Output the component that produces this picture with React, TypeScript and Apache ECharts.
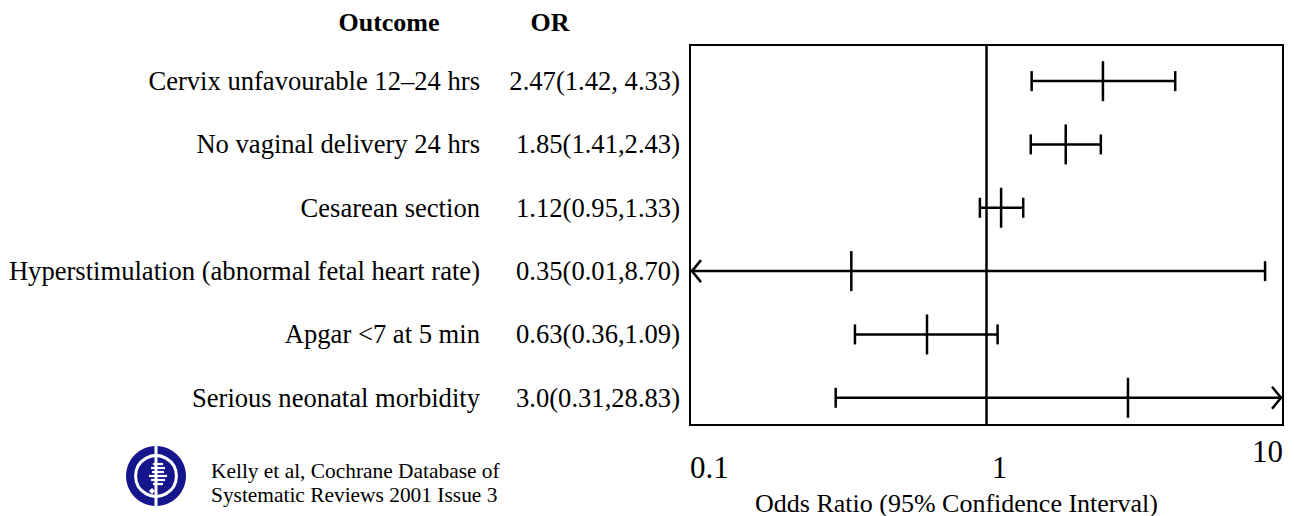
import React, { useEffect, useRef } from "react";
import * as echarts from "echarts";

// Outcomes (top to bottom) with odds ratios and 95% confidence limits
const outcomes = [
  "Cervix unfavourable 12–24 hrs",
  "No vaginal delivery 24 hrs",
  "Cesarean section",
  "Hyperstimulation (abnormal fetal heart rate)",
  "Apgar <7 at 5 min",
  "Serious neonatal morbidity",
];
const oddsRatio = [2.47, 1.85, 1.12, 0.35, 0.63, 3.0];
const ciLow = [1.42, 1.41, 0.95, 0.01, 0.36, 0.31];
const ciHigh = [4.33, 2.43, 1.33, 8.7, 1.09, 28.83];
const orLabels = [
  "2.47(1.42, 4.33)",
  "1.85(1.41,2.43)",
  "1.12(0.95,1.33)",
  "0.35(0.01,8.70)",
  "0.63(0.36,1.09)",
  "3.0(0.31,28.83)",
];
const xMin = 0.1;
const xMax = 10;
const referenceOR = 1;

const SERIF = "'Liberation Serif', 'Times New Roman', serif";
const NAVY = "#16168c";

export default function App() {
  const ref = useRef<HTMLDivElement>(null);

  useEffect(() => {
    if (!ref.current) return;
    const chart = echarts.init(ref.current, null, { renderer: "svg" });

    const rows = outcomes.map((_, i) => i);
    const data = rows.map((i) => [ciLow[i], ciHigh[i], oddsRatio[i], i]);

    const renderItem = (params: any, api: any) => {
      const lo = api.value(0);
      const hi = api.value(1);
      const or = api.value(2);
      const row = api.value(3);
      const pLo = api.coord([Math.max(lo, xMin), row]);
      const pHi = api.coord([Math.min(hi, xMax), row]);
      const pOr = api.coord([or, row]);
      const style = { stroke: "#000", lineWidth: 2.5, fill: "none" };
      const cap = 10;
      const tick = 20;
      const head = 11;
      const children: any[] = [
        { type: "line", shape: { x1: pLo[0], y1: pLo[1], x2: pHi[0], y2: pHi[1] }, style },
        { type: "line", shape: { x1: pOr[0], y1: pOr[1] - tick, x2: pOr[0], y2: pOr[1] + tick }, style },
      ];
      if (lo >= xMin) {
        children.push({ type: "line", shape: { x1: pLo[0], y1: pLo[1] - cap, x2: pLo[0], y2: pLo[1] + cap }, style });
      } else {
        children.push({
          type: "polyline",
          shape: { points: [[pLo[0] + head, pLo[1] - head], [pLo[0] + 2, pLo[1]], [pLo[0] + head, pLo[1] + head]] },
          style,
        });
      }
      if (hi <= xMax) {
        children.push({ type: "line", shape: { x1: pHi[0], y1: pHi[1] - cap, x2: pHi[0], y2: pHi[1] + cap }, style });
      } else {
        children.push({
          type: "polyline",
          shape: { points: [[pHi[0] - head, pHi[1] - head], [pHi[0] - 2, pHi[1]], [pHi[0] - head, pHi[1] + head]] },
          style,
        });
      }
      return { type: "group", children };
    };

    const tickLabel = (v: number) => {
      if (v < 0.5) return "{a|0.1}";
      if (v < 5) return "{b|1}";
      return "{c|10}";
    };

    const logo = (cx: number, cy: number, r: number) => {
      const white = { stroke: "#fff", lineWidth: 2.2, fill: "none" };
      const bars = [
        [-12, 5],
        [-8, 7],
        [-4, 6],
        [0, 9],
        [4, 7],
        [8, 5],
      ];
      return {
        type: "group",
        children: [
          { type: "circle", shape: { cx, cy, r }, style: { fill: NAVY } },
          { type: "circle", shape: { cx, cy, r: r * 0.68 }, style: { stroke: "#fff", lineWidth: 3, fill: NAVY } },
          { type: "line", shape: { x1: cx, y1: cy - r, x2: cx, y2: cy + r }, style: { stroke: "#fff", lineWidth: 3 } },
          ...bars.map(([dy, w]) => ({
            type: "line",
            shape: { x1: cx - w + 2, y1: cy + dy, x2: cx + w + 2, y2: cy + dy },
            style: white,
          })),
          {
            type: "polygon",
            shape: { points: [[cx - 4, cy + 12], [cx - 1, cy + 15], [cx - 4, cy + 18], [cx - 7, cy + 15]] },
            style: { fill: "#fff" },
          },
        ],
      };
    };

    chart.setOption({
      animation: false,
      backgroundColor: "#fff",
      textStyle: { fontFamily: SERIF, color: "#000" },
      grid: {
        left: 690,
        right: 11,
        top: 45,
        bottom: 91,
        show: true,
        borderColor: "#000",
        borderWidth: 2,
        backgroundColor: "transparent",
        outerBoundsMode: "none",
      },
      xAxis: {
        type: "log",
        logBase: 10,
        min: xMin,
        max: xMax,
        axisLine: { show: false },
        axisTick: { show: false },
        splitLine: { show: false },
        name: "Odds Ratio (95% Confidence Interval)",
        nameLocation: "middle",
        nameGap: 65,
        nameTextStyle: { fontFamily: SERIF, fontSize: 26, color: "#000", padding: [0, 60, 0, 0] },
        axisLabel: {
          margin: 11,
          fontFamily: SERIF,
          fontSize: 31,
          color: "#000",
          alignMinLabel: "left",
          alignMaxLabel: "right",
          formatter: tickLabel,
          rich: {
            a: { fontFamily: SERIF, fontSize: 31, color: "#000", padding: [16, 0, 0, 0] },
            b: { fontFamily: SERIF, fontSize: 31, color: "#000", padding: [16, 0, 0, 26] },
            c: { fontFamily: SERIF, fontSize: 31, color: "#000", padding: [0, 0, 0, 0] },
          },
        },
      },
      yAxis: [
        {
          type: "value",
          min: -0.57,
          max: 5.43,
          inverse: true,
          axisLine: { show: false },
          axisTick: { show: false },
          splitLine: { show: false },
          axisLabel: {
            customValues: rows,
            formatter: (v: number) => outcomes[Math.round(v)] ?? "",
            margin: 210,
            fontFamily: SERIF,
            fontSize: 26.6,
            color: "#000",
          },
        },
        {
          type: "value",
          position: "left",
          min: -0.57,
          max: 5.43,
          inverse: true,
          axisLine: { show: false },
          axisTick: { show: false },
          splitLine: { show: false },
          axisLabel: {
            customValues: rows,
            formatter: (v: number) => orLabels[Math.round(v)] ?? "",
            margin: 10,
            fontFamily: SERIF,
            fontSize: 26.6,
            color: "#000",
          },
        },
      ],
      graphic: [
        {
          type: "text",
          x: 389,
          y: 22,
          style: { text: "Outcome", font: `bold 26px ${SERIF}`, fill: "#000", align: "center", verticalAlign: "middle" },
        },
        {
          type: "text",
          x: 550,
          y: 22,
          style: { text: "OR", font: `bold 26px ${SERIF}`, fill: "#000", align: "center", verticalAlign: "middle" },
        },
        {
          type: "text",
          x: 211,
          y: 471,
          style: { text: "Kelly et al, Cochrane Database of", font: `21.4px ${SERIF}`, fill: "#000", align: "left", verticalAlign: "middle" },
        },
        {
          type: "text",
          x: 211,
          y: 495,
          style: { text: "Systematic Reviews 2001 Issue 3", font: `21.4px ${SERIF}`, fill: "#000", align: "left", verticalAlign: "middle" },
        },
        logo(156, 476, 30),
      ],
      series: [
        {
          type: "custom",
          renderItem,
          data,
          encode: { x: [0, 1, 2], y: 3 },
          silent: true,
        },
        {
          type: "line",
          data: [],
          silent: true,
          markLine: {
            silent: true,
            symbol: ["none", "none"],
            label: { show: false },
            lineStyle: { color: "#000", width: 2.5, type: "solid" },
            data: [{ xAxis: referenceOR }],
          },
        },
      ],
    });

    return () => chart.dispose();
  }, []);

  return (
    <div
      ref={ref}
      style={{ position: "fixed", left: 0, top: 0, width: 1294, height: 516 }}
    />
  );
}
